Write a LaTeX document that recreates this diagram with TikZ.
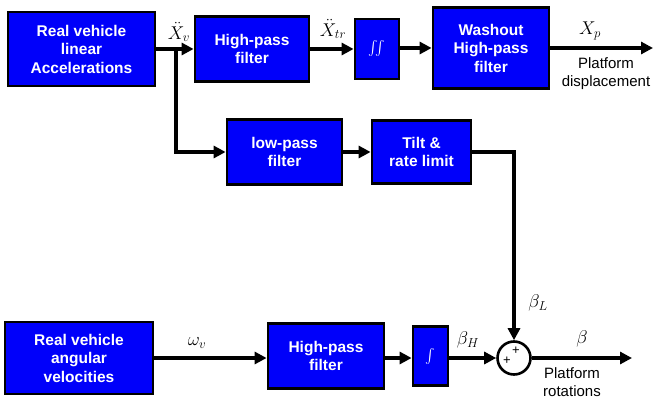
\documentclass[tikz,border=0pt]{standalone}
\usepackage{fix-cm}
\usepackage{exscale}
\usepackage{fontspec}
\setmainfont{Liberation Sans}
\usetikzlibrary{arrows.meta}
\definecolor{boxblue}{RGB}{0,0,250}
\begin{document}
\begin{tikzpicture}[x=1pt,y=-1pt,
  blk/.style={draw=black,line width=2.8pt,fill=boxblue,text=white,align=center,
    font=\fontsize{15.5}{18.5}\selectfont\bfseries,inner sep=0pt},
  conn/.style={line width=3.3pt},
  arr/.style={conn,-{Triangle[length=12pt,width=12pt]}},
  lbl/.style={font=\fontsize{18.5}{22}\selectfont,inner sep=0pt},
  captxt/.style={font=\fontsize{15}{18}\selectfont,align=center,inner sep=0pt}]
\useasboundingbox (0,0) rectangle (655,398);
% top row
\node[blk,minimum width=147pt,minimum height=74pt] (acc) at (81.5,49) {Real vehicle\\linear\\Accelerations};
\node[blk,minimum width=114pt,minimum height=65pt] (hp1) at (252,49) {High-pass\\filter};
\node[blk,minimum width=44pt,minimum height=60pt] (int2) at (377,49) {\fontsize{15}{18}\selectfont$\int\!\!\int$};
\node[blk,minimum width=116pt,minimum height=81pt] (wash) at (491,48) {Washout\\High-pass\\filter};
\coordinate (out1) at (653,48);
% middle row
\node[blk,minimum width=115pt,minimum height=65pt] (lp) at (284.5,152) {low-pass\\filter};
\node[blk,minimum width=99pt,minimum height=63pt] (tilt) at (421.5,152) {Tilt \&\\rate limit};
% bottom row
\node[blk,minimum width=148pt,minimum height=72pt] (angv) at (79,358) {Real vehicle\\angular\\velocities};
\node[blk,minimum width=116pt,minimum height=65pt] (hp2) at (326,356) {High-pass\\filter};
\node[blk,minimum width=35pt,minimum height=59pt] (int1) at (430.5,356) {\fontsize{15}{18}\selectfont$\int$};
\node[draw=black,line width=2.6pt,circle,minimum size=33pt,inner sep=0pt] (sum) at (514,358) {};
\node[font=\fontsize{13}{13}\selectfont,inner sep=0pt] (p1) at (516,351) {+};
\node[font=\fontsize{13}{13}\selectfont,inner sep=0pt] (p2) at (507,361) {+};
\coordinate (out2) at (632,358);
\coordinate (br) at (176,49);
% connectors
\draw[arr] (acc.east |- br) -- (hp1.west |- br);
\draw[arr] (hp1.east) -- (int2.west);
\draw[arr] (int2.east |- wash.west) -- (wash.west);
\draw[arr] (wash.east) -- (out1);
\draw[arr] (br) |- (lp.west);
\draw[arr] (lp.east) -- (tilt.west);
\draw[arr] (tilt.east) -| (sum.north);
\draw[arr] (angv.east |- sum) -- (hp2.west |- sum);
\draw[arr] (hp2.east |- sum) -- (int1.west |- sum);
\draw[arr] (int1.east |- sum) -- (sum.west);
\draw[arr] (sum.east) -- (out2);
% labels
\node[lbl] (xv) at (179,32) {$\ddot{X}_{v}$};
\node[lbl] (xtr) at (333,29) {$\ddot{X}_{tr}$};
\node[lbl] (xp) at (590,31) {$X_{p}$};
\node[captxt] (pd) at (606,74) {Platform\\displacement};
\node[lbl] (wv) at (197,343) {$\omega_{v}$};
\node[lbl] (bh) at (468,340) {$\beta_{H}$};
\node[lbl] (bl) at (538,303) {$\beta_{L}$};
\node[lbl] (b) at (582,339) {$\beta$};
\node[captxt] (pr) at (572,382) {Platform\\rotations};
\end{tikzpicture}
\end{document}
